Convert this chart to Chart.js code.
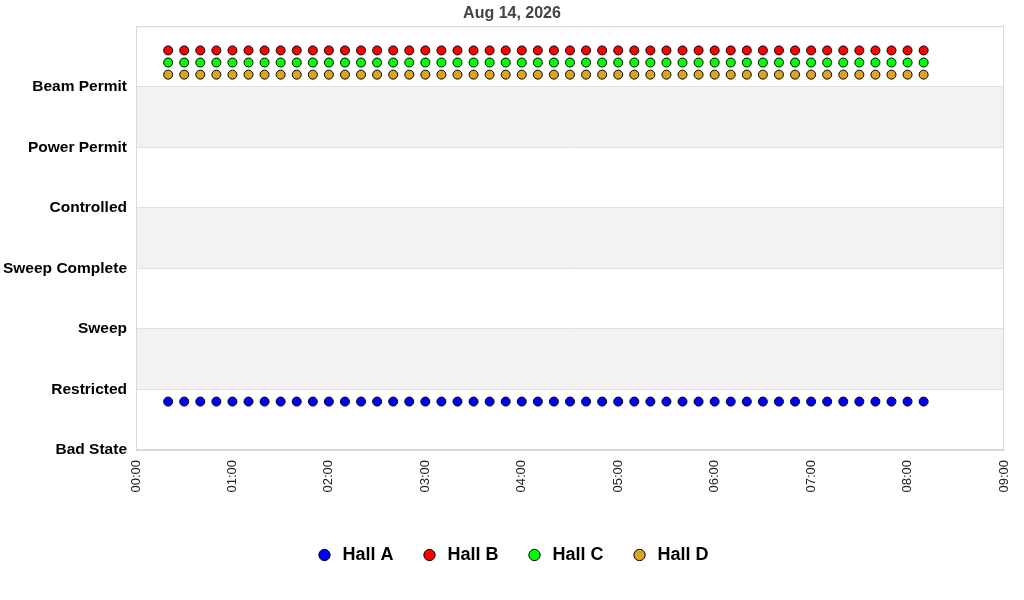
<!DOCTYPE html>
<html>
<head>
<meta charset="utf-8">
<title>Hall states</title>
<script src="https://cdn.jsdelivr.net/npm/chart.js@4.4.1/dist/chart.umd.min.js"></script>
<style>
  html, body { margin: 0; padding: 0; background: #fff; }
  #wrap { width: 1024px; height: 600px; }
</style>
</head>
<body>
<div id="wrap"><canvas id="chart"></canvas></div>
<script>
/* Datos */
const titulo = 'Aug 14, 2026';
const estados = ['Bad State', 'Restricted', 'Sweep', 'Sweep Complete', 'Controlled', 'Power Permit', 'Beam Permit'];
const horasEje = ['00:00', '01:00', '02:00', '03:00', '04:00', '05:00', '06:00', '07:00', '08:00', '09:00'];

const tiempos = [
    '00:20', '00:30', '00:40', '00:50', '01:00', '01:10', '01:20', '01:30', '01:40', '01:50',
    '02:00', '02:10', '02:20', '02:30', '02:40', '02:50', '03:00', '03:10', '03:20', '03:30',
    '03:40', '03:50', '04:00', '04:10', '04:20', '04:30', '04:40', '04:50', '05:00', '05:10',
    '05:20', '05:30', '05:40', '05:50', '06:00', '06:10', '06:20', '06:30', '06:40', '06:50',
    '07:00', '07:10', '07:20', '07:30', '07:40', '07:50', '08:00', '08:10'
];

// valor dibujado (estado + desplazamiento de cada sala)
const hallA = [
    0.8, 0.8, 0.8, 0.8, 0.8, 0.8, 0.8, 0.8, 0.8, 0.8, 0.8, 0.8, 0.8, 0.8, 0.8, 0.8,
    0.8, 0.8, 0.8, 0.8, 0.8, 0.8, 0.8, 0.8, 0.8, 0.8, 0.8, 0.8, 0.8, 0.8, 0.8, 0.8,
    0.8, 0.8, 0.8, 0.8, 0.8, 0.8, 0.8, 0.8, 0.8, 0.8, 0.8, 0.8, 0.8, 0.8, 0.8, 0.8
];
const hallB = [
    6.6, 6.6, 6.6, 6.6, 6.6, 6.6, 6.6, 6.6, 6.6, 6.6, 6.6, 6.6, 6.6, 6.6, 6.6, 6.6,
    6.6, 6.6, 6.6, 6.6, 6.6, 6.6, 6.6, 6.6, 6.6, 6.6, 6.6, 6.6, 6.6, 6.6, 6.6, 6.6,
    6.6, 6.6, 6.6, 6.6, 6.6, 6.6, 6.6, 6.6, 6.6, 6.6, 6.6, 6.6, 6.6, 6.6, 6.6, 6.6
];
const hallC = [
    6.4, 6.4, 6.4, 6.4, 6.4, 6.4, 6.4, 6.4, 6.4, 6.4, 6.4, 6.4, 6.4, 6.4, 6.4, 6.4,
    6.4, 6.4, 6.4, 6.4, 6.4, 6.4, 6.4, 6.4, 6.4, 6.4, 6.4, 6.4, 6.4, 6.4, 6.4, 6.4,
    6.4, 6.4, 6.4, 6.4, 6.4, 6.4, 6.4, 6.4, 6.4, 6.4, 6.4, 6.4, 6.4, 6.4, 6.4, 6.4
];
const hallD = [
    6.2, 6.2, 6.2, 6.2, 6.2, 6.2, 6.2, 6.2, 6.2, 6.2, 6.2, 6.2, 6.2, 6.2, 6.2, 6.2,
    6.2, 6.2, 6.2, 6.2, 6.2, 6.2, 6.2, 6.2, 6.2, 6.2, 6.2, 6.2, 6.2, 6.2, 6.2, 6.2,
    6.2, 6.2, 6.2, 6.2, 6.2, 6.2, 6.2, 6.2, 6.2, 6.2, 6.2, 6.2, 6.2, 6.2, 6.2, 6.2
];

/* "HH:MM" -> horas */
function aHoras(t) {
    const [h, m] = t.split(':').map(Number);
    return h + m / 60;
}

function puntos(valores) {
    return tiempos.map((t, i) => ({ x: aHoras(t), y: valores[i] }));
}

function serie(nombre, valores, color) {
    return {
        label: nombre,
        data: puntos(valores),
        backgroundColor: color,
        borderColor: '#000',
        pointStyle: 'circle',
        pointRadius: 4.5,
        pointHoverRadius: 4.5,
        pointBorderWidth: 1,
        showLine: false
    };
}

// franjas grises alternas + borde del area
const franjas = {
    id: 'franjas',
    beforeDraw(chart) {
        const { ctx, chartArea, scales } = chart;
        const y = scales.y;
        ctx.save();
        ctx.fillStyle = '#f2f2f2';
        [1, 3, 5].forEach(v => {
            const top = y.getPixelForValue(v + 1);
            const bot = y.getPixelForValue(v);
            ctx.fillRect(chartArea.left, top, chartArea.right - chartArea.left, bot - top);
        });
        ctx.restore();
    },
    afterDraw(chart) {
        const { ctx, chartArea } = chart;
        ctx.save();
        ctx.strokeStyle = '#d9d9d9';
        ctx.lineWidth = 1;
        ctx.strokeRect(chartArea.left + 0.5, chartArea.top + 0.5,
            chartArea.right - chartArea.left - 1, chartArea.bottom - chartArea.top - 1);
        ctx.restore();
    }
};

const ctx = document.querySelector('#chart').getContext('2d');
new Chart(ctx, {
    type: 'scatter',
    data: {
        datasets: [
            serie('Hall A', hallA, '#0000ff'),
            serie('Hall B', hallB, '#ff0000'),
            serie('Hall C', hallC, '#00ff00'),
            serie('Hall D', hallD, '#daa520')
        ]
    },
    plugins: [franjas],
    options: {
        responsive: true,
        maintainAspectRatio: false,
        animation: false,
        layout: { padding: { left: 0, right: 0, top: 0, bottom: 26 } },
        scales: {
            x: {
                type: 'linear',
                min: 0,
                max: 9,
                grid: { display: false, drawTicks: false },
                border: { color: '#d9d9d9' },
                ticks: {
                    stepSize: 1,
                    autoSkip: false,
                    maxRotation: 90,
                    minRotation: 90,
                    padding: 10,
                    color: '#222',
                    font: { family: 'Liberation Sans', size: 13 },
                    callback: v => horasEje[v] || ''
                },
                afterFit: s => {
                    s.height = 69;
                    s.paddingLeft = 0;
                    s.paddingRight = 20;
                }
            },
            y: {
                min: 0,
                max: 7,
                grid: { color: '#e0e0e0', drawTicks: false },
                border: { color: '#d9d9d9' },
                ticks: {
                    stepSize: 1,
                    padding: 9,
                    color: '#000',
                    font: { family: 'Liberation Sans', size: 15.5, weight: 'bold' },
                    callback: v => estados[v] || ''
                },
                afterFit: s => { s.width = 136; }
            }
        },
        plugins: {
            title: {
                display: true,
                text: titulo,
                color: '#444',
                padding: { top: 4, bottom: 3 },
                font: { family: 'Liberation Sans', size: 16, weight: 'bold' }
            },
            legend: {
                display: true,
                position: 'bottom',
                labels: {
                    usePointStyle: true,
                    pointStyle: 'circle',
                    boxHeight: 8,
                    boxWidth: 18,
                    padding: 27,
                    color: '#000',
                    font: { family: 'Liberation Sans', size: 18, weight: 'bold' }
                }
            },
            tooltip: { enabled: false }
        }
    }
});
</script>
</body>
</html>
